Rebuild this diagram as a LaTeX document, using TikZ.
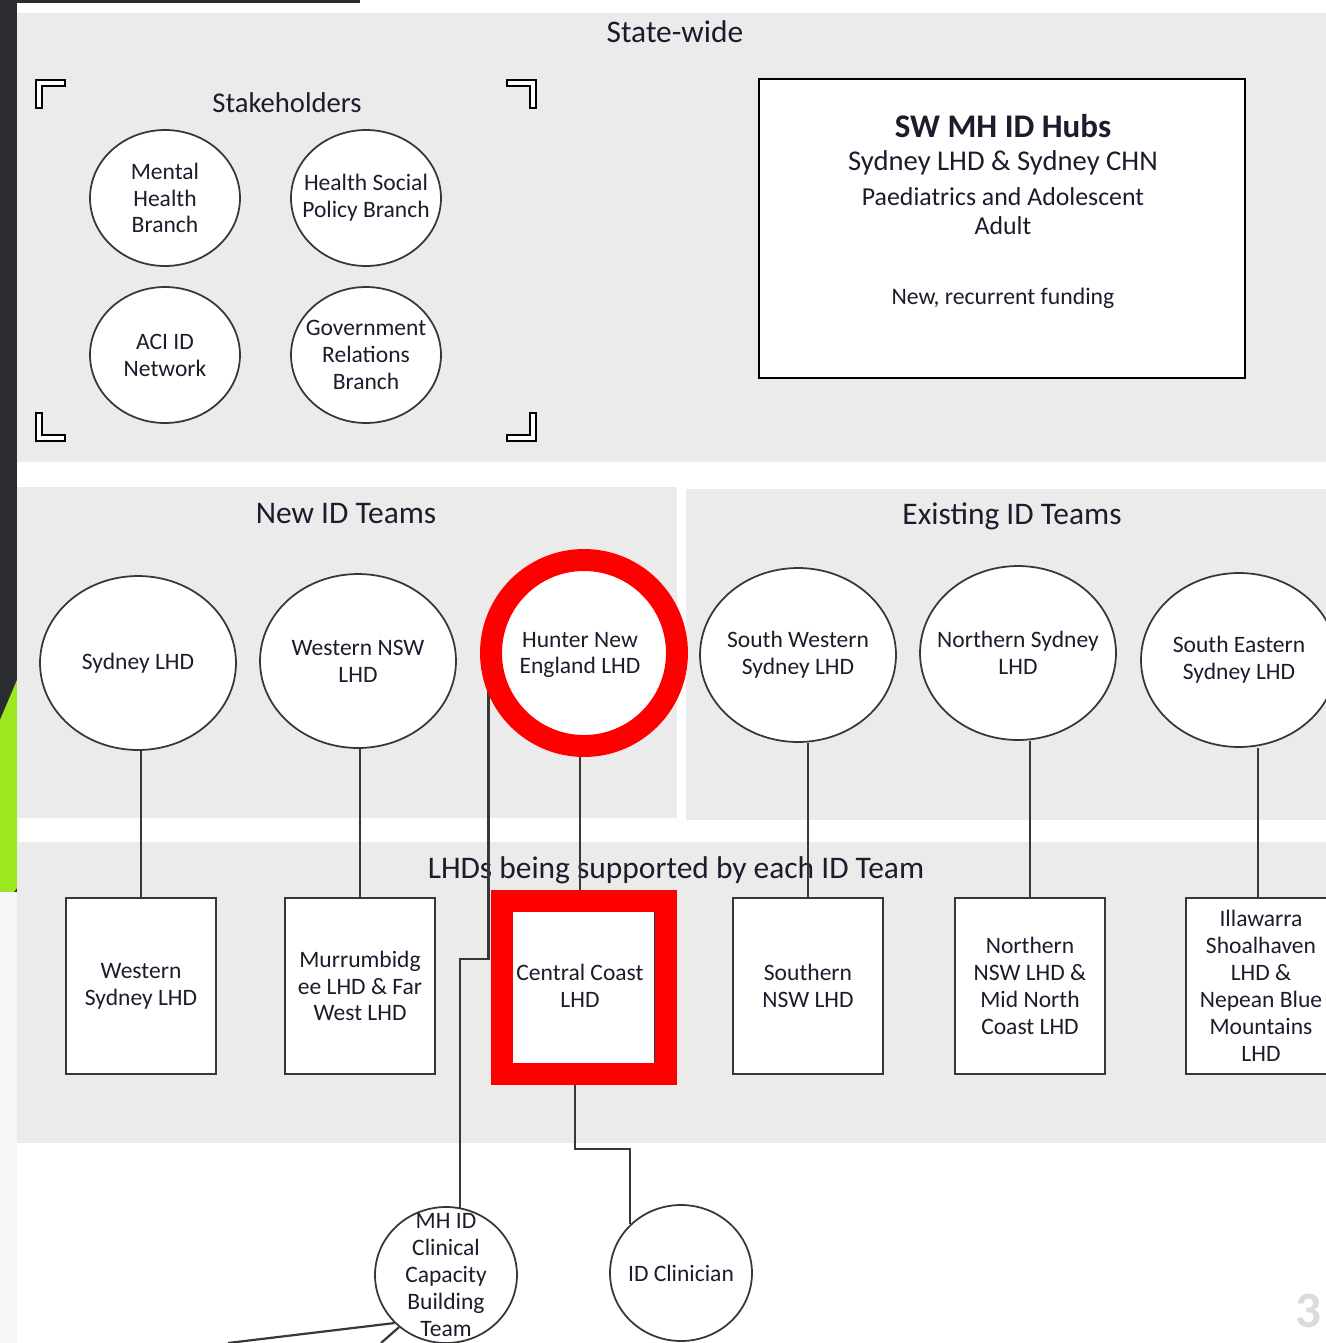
\documentclass[tikz,border=0pt]{standalone}
\usepackage{fontspec}
\setmainfont{Carlito}
\usetikzlibrary{shapes.geometric,calc}
\definecolor{slate}{RGB}{43,43,50}
\definecolor{lime}{RGB}{155,232,30}
\definecolor{panelgray}{RGB}{235,235,235}
\definecolor{edge}{RGB}{55,55,55}
\definecolor{ink}{RGB}{28,28,44}
\definecolor{alert}{RGB}{255,0,0}
\begin{document}
\begin{tikzpicture}[x=0.02cm,y=-0.02cm,
	every node/.style={text=ink,font=\fontsize{13.4}{15.3}\selectfont,align=center,inner sep=0pt},
	paneltitle/.style={font=\fontsize{17.9}{21}\selectfont},
	oval/.style={ellipse,draw=edge,line width=1pt,fill=white,inner xsep=-16pt,inner ysep=-12pt},
	stake/.style={oval,minimum width=3cm,minimum height=2.72cm},
	team/.style={oval,minimum width=3.92cm,minimum height=3.48cm},
	lhdbox/.style={rectangle,draw=edge,line width=1pt,fill=white,minimum width=3cm,minimum height=3.52cm},
	staff/.style={oval,minimum width=2.84cm,minimum height=2.72cm},
	link/.style={draw=edge,line width=1.25pt},
	bracket/.style={draw=black,fill=white,line width=0.6pt},
	highlight/.style={draw=alert,line width=12.5pt}]
	\useasboundingbox (0,0) rectangle (1326,1343);
	\clip (0,0) rectangle (1326,1343);
	% page background
	\fill[white] (0,0) rectangle (1326,1343);
	\fill[slate] (0,0) rectangle (17,1343);
	\fill[slate] (17,0) rectangle (360,3);
	\fill[lime] (0,720) -- (17,680) -- (17,888) -- (14,892) -- (0,892) -- cycle;
	\fill[white!94!gray] (0,892) rectangle (17,1343);
	% panels
	\fill[panelgray] (17,13) rectangle (1326,462);
	\fill[panelgray] (17,487) rectangle (677,818);
	\fill[panelgray] (686,489) rectangle (1326,820);
	\fill[panelgray] (17,842) rectangle (1326,1143);
	\node[paneltitle] (statewide) at (675,32) {State-wide};
	\node[font=\fontsize{16.3}{19}\selectfont] (stakeholders) at (287,103) {Stakeholders};
	\node[paneltitle] (newteams) at (346,514) {New ID Teams};
	\node[paneltitle] (oldteams) at (1012,516) {Existing ID Teams};
	\node[paneltitle] (supported) at (676,870) {LHDs being supported by each ID Team};
	\foreach \cx/\cy/\sx/\sy in {36/80/1/1, 536/80/-1/1, 36/441/1/-1, 536/441/-1/-1}
		\draw[bracket] (\cx,\cy) -- ++(29*\sx,0) -- ++(0,6*\sy) -- ++(-23*\sx,0) -- ++(0,22*\sy) -- ++(-6*\sx,0) -- cycle;
	% stakeholders
	\node[stake] (mhb) at (165,198) {Mental\\Health\\Branch};
	\node[stake] (hspb) at (366,198) {Health Social\\Policy Branch};
	\node[stake] (aci) at (165,355) {ACI ID\\Network};
	\node[stake] (grb) at (366,355) {Government\\Relations\\Branch};
	% hubs
	\node[draw=black,line width=1pt,fill=white,minimum width=9.72cm,minimum height=5.98cm] (hubs) at (1002,228.5) {};
	\node[font=\bfseries\fontsize{18.8}{22}\selectfont] (hubname) at (1003,126) {SW MH ID Hubs};
	\node[font=\fontsize{16.3}{19}\selectfont] (hubsites) at (1003,163) {Sydney LHD \& Sydney CHN};
	\node[font=\fontsize{14.7}{17}\selectfont] (hubpaed) at (1003,197) {Paediatrics and Adolescent};
	\node[font=\fontsize{14.7}{17}\selectfont] (hubadult) at (1003,226) {Adult};
	\node[font=\fontsize{13.5}{16}\selectfont] (hubfund) at (1003,298) {New, recurrent funding};
	% ID teams
	\node[team] (syd) at (138,663) {Sydney LHD};
	\node[team] (wnsw) at (358,661) {Western NSW\\LHD};
	\node[team] (hne) at (580,655) {Hunter New\\England LHD};
	\node[team] (swsyd) at (798,655) {South Western\\Sydney LHD};
	\node[team] (nsyd) at (1018,653) {Northern Sydney\\LHD};
	\node[team] (sesyd) at (1239,660) {South Eastern\\Sydney LHD};
	% supported LHDs
	\node[lhdbox] (wsyd) at (141,986) {Western\\Sydney LHD};
	\node[lhdbox] (mlhd) at (360,986) {Murrumbidg\\ee LHD \& Far\\West LHD};
	\node[lhdbox] (cc) at (580,986) {Central Coast\\LHD};
	\node[lhdbox] (snsw) at (808,986) {Southern\\NSW LHD};
	\node[lhdbox] (nnsw) at (1030,986) {Northern\\NSW LHD \&\\Mid North\\Coast LHD};
	\node[lhdbox] (isnb) at (1261,986) {Illawarra\\Shoalhaven\\LHD \&\\Nepean Blue\\Mountains\\LHD};
	% staff
	\node[staff] (mhid) at (446,1275) {MH ID\\Clinical\\Capacity\\Building\\Team};
	\node[staff] (idc) at (681,1273) {ID Clinician};
	\coordinate (offa) at (228,1343);
	\coordinate (offb) at (381,1343);
	% connectors
	\draw[link] (syd.south -| wsyd.north) -- (wsyd.north);
	\draw[link] (wnsw.south -| mlhd.north) -- (mlhd.north);
	\draw[link] (hne.south) -- (cc.north);
	\draw[link] ($(swsyd.south)+(10,0)$) -- (snsw.north);
	\draw[link] ($(nsyd.south)+(12,0)$) -- (nnsw.north);
	\draw[link] ($(sesyd.south)+(19,0)$) -- ($(isnb.north)+(-3,0)$);
	\draw[link] (hne.200) -- ++(0,271) -| (mhid.78);
	\draw[link] ($(cc.south)+(-5,0)$) -- ++(0,74) -| (idc.136);
	\draw[link] (mhid.223) -- (offa);
	\draw[link] (mhid.228) -- (offb);
	% highlights
	\draw[highlight] (584,653) circle (93);
	\draw[highlight] (502,901) rectangle (666,1074);
	\node[text=white!86!black,font=\bfseries\fontsize{29}{32}\selectfont] (pagenum) at (1308,1311) {3};
\end{tikzpicture}
\end{document}
